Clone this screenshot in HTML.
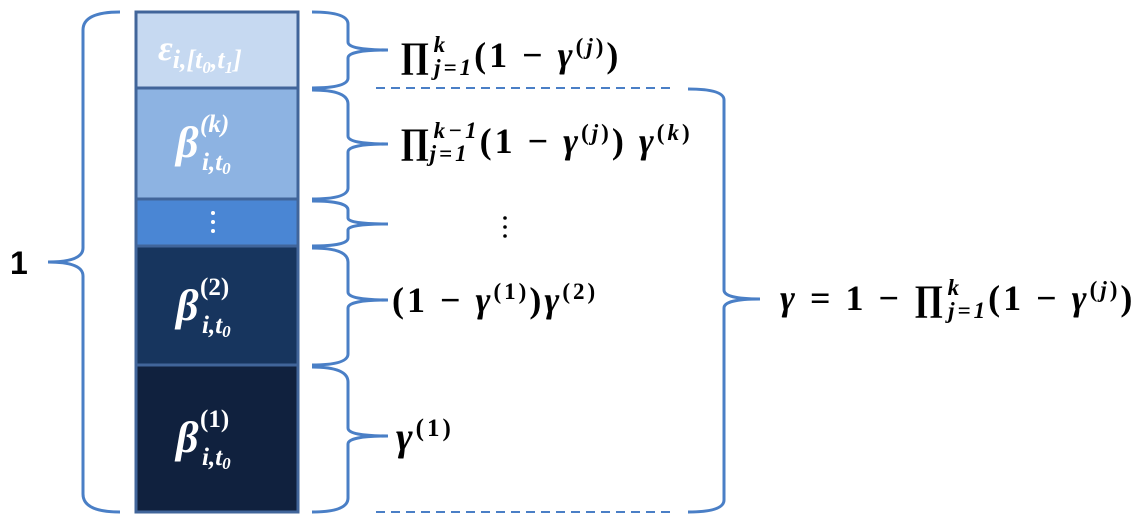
<!DOCTYPE html>
<html><head><meta charset="utf-8"><style>
html,body{margin:0;padding:0;background:#fff;width:1146px;height:519px;overflow:hidden}
svg text{font-family:"Liberation Serif","DejaVu Serif",serif;font-weight:bold}
.v{font-style:italic}
.f{letter-spacing:3px}
</style></head><body>
<svg width="1146" height="519" viewBox="0 0 1146 519" xmlns="http://www.w3.org/2000/svg">
<g stroke="#41659a" stroke-width="3">
<rect x="136" y="12" width="162" height="76" fill="#c6d9f1"/>
<rect x="136" y="88" width="162" height="111" fill="#8db3e2"/>
<rect x="136" y="199" width="162" height="47" fill="#4a86d4"/>
<rect x="136" y="246" width="162" height="119" fill="#17355e"/>
<rect x="136" y="365" width="162" height="147" fill="#10213e"/>
</g>
<g fill="#fff">
<text x="158" y="60" font-size="36" class="v">ε<tspan font-size="26" dy="8">i,[t</tspan><tspan font-size="17" dy="5">0</tspan><tspan font-size="26" dy="-5">,t</tspan><tspan font-size="17" dy="5">1</tspan><tspan font-size="26" dy="-5">]</tspan></text>
<text x="176" y="157" font-size="44" class="v">β</text><text x="200" y="132" font-size="25" class="v">(k)</text><text x="202" y="170" font-size="25" class="v">i,t<tspan font-size="17" dy="4">0</tspan></text>
<text x="176" y="320" font-size="44" class="v">β</text><text x="200" y="295" font-size="25">(2)</text><text x="202" y="333" font-size="25" class="v">i,t<tspan font-size="17" dy="4">0</tspan></text>
<text x="176" y="452" font-size="44" class="v">β</text><text x="200" y="427" font-size="25">(1)</text><text x="202" y="465" font-size="25" class="v">i,t<tspan font-size="17" dy="4">0</tspan></text>
<circle cx="213" cy="213" r="2"/><circle cx="213" cy="222" r="2"/><circle cx="213" cy="231" r="2"/>
</g>
<g fill="none" stroke="#4a7fc6" stroke-width="3">
<path d="M120,12 Q83,12 83,30 L83,248 Q83,262 48,262 Q83,262 83,276 L83,494 Q83,512 120,512"/>
<path d="M312,12 Q348,12 348,24 L348,42 Q348,50 388,50 Q348,50 348,58 L348,78 Q348,88 312,88"/>
<path d="M312,90 Q348,90 348,104 L348,136 Q348,144 388,144 Q348,144 348,152 L348,188 Q348,199 312,199"/>
<path d="M312,201 Q348,201 348,210 L348,218 Q348,224 388,224 Q348,224 348,230 L348,238 Q348,246 312,246"/>
<path d="M312,248 Q348,248 348,262 L348,292 Q348,300 388,300 Q348,300 348,308 L348,354 Q348,365 312,365"/>
<path d="M312,367 Q348,367 348,382 L348,428 Q348,436 388,436 Q348,436 348,444 L348,498 Q348,512 312,512"/>
<path d="M688,89 Q724,89 724,100 L724,290 Q724,299 760,299 Q724,299 724,308 L724,500 Q724,512 688,512"/>
<path d="M376,88 L672,88 M376,512 L672,512" stroke-dasharray="9,6" stroke-width="2"/>
</g>
<g fill="#000">
<text x="10" y="274" font-size="32" style="font-family:'Liberation Sans',sans-serif">1</text>
<text class="f" x="400" y="67" font-size="36">∏<tspan font-size="23" class="v" dx="1" dy="-15">k</tspan><tspan font-size="23" dx="-14" dy="23" class="v">j=1</tspan><tspan dy="-8">(1 − </tspan><tspan class="v">γ</tspan><tspan font-size="23" dy="-13">(</tspan><tspan font-size="23" class="v">j</tspan><tspan font-size="23">)</tspan><tspan dy="13">)</tspan></text>
<text class="f" x="400" y="153" font-size="36">∏<tspan font-size="23" class="v" dx="1" dy="-15">k−1</tspan><tspan font-size="23" dx="-50" dy="23" class="v">j=1</tspan><tspan dy="-8" dx="10">(1 − </tspan><tspan class="v">γ</tspan><tspan font-size="23" dy="-13">(</tspan><tspan font-size="23" class="v">j</tspan><tspan font-size="23">)</tspan><tspan dy="13">) </tspan><tspan class="v">γ</tspan><tspan font-size="23" dy="-13">(</tspan><tspan font-size="23" class="v">k</tspan><tspan font-size="23">)</tspan></text>
<circle cx="505" cy="218" r="1.8"/><circle cx="505" cy="227" r="1.8"/><circle cx="505" cy="236" r="1.8"/>
<text class="f" x="392" y="312" font-size="36">(1 − <tspan class="v">γ</tspan><tspan font-size="23" dy="-13">(1)</tspan><tspan dy="13">)</tspan><tspan class="v">γ</tspan><tspan font-size="23" dy="-13">(2)</tspan></text>
<text class="f" x="396" y="450" font-size="40"><tspan class="v">γ</tspan><tspan font-size="25" dy="-14">(1)</tspan></text>
<text class="f" x="780" y="310" font-size="36"><tspan class="v">γ</tspan> = 1 − ∏<tspan font-size="23" class="v" dx="1" dy="-15">k</tspan><tspan font-size="23" dx="-14" dy="23" class="v">j=1</tspan><tspan dy="-8">(1 − </tspan><tspan class="v">γ</tspan><tspan font-size="23" dy="-13">(</tspan><tspan font-size="23" class="v">j</tspan><tspan font-size="23">)</tspan><tspan dy="13">)</tspan></text>
</g>
</svg>
</body></html>
